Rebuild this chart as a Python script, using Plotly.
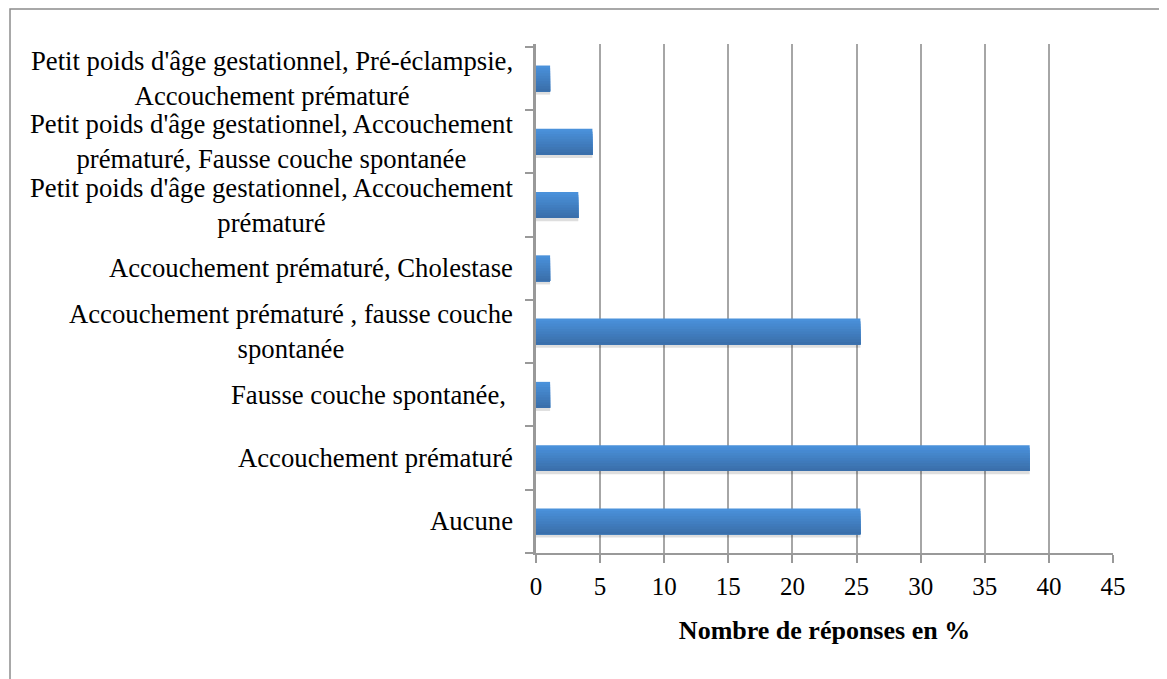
import plotly.graph_objects as go

categories = [
    "Aucune",
    "Accouchement prématuré",
    "Fausse couche spontanée,\u00a0",
    "Accouchement prématuré , fausse couche<br>spontanée",
    "Accouchement prématuré, Cholestase",
    "Petit poids d'âge gestationnel, Accouchement<br>prématuré",
    "Petit poids d'âge gestationnel, Accouchement<br>prématuré, Fausse couche spontanée",
    "Petit poids d'âge gestationnel, Pré-éclampsie,<br>Accouchement prématuré",
]
values = [25.3, 38.5, 1.1, 25.3, 1.1, 3.3, 4.4, 1.1]
x_ticks = [0, 5, 10, 15, 20, 25, 30, 35, 40, 45]
x_title = "Nombre de réponses en %"

FONT = "Liberation Serif, Times New Roman, serif"
BAR_W = 0.41
TOP_RGB = (74, 145, 218)
BOT_RGB = (58, 111, 171)
N_LAYERS = 10

fig = go.Figure()
# soft drop shadow under each bar
fig.add_trace(go.Bar(
    x=values, y=categories, orientation="h",
    width=BAR_W, offset=-BAR_W / 2 - 0.05,
    marker=dict(color="rgba(0,0,0,0.13)", line=dict(width=0)),
    hoverinfo="skip",
))
# vertical gradient fill: nested layers all starting at the bar's bottom edge,
# each shorter and darker than the previous
for k in range(N_LAYERS):
    t = k / (N_LAYERS - 1)
    rgb = tuple(round(TOP_RGB[j] + (BOT_RGB[j] - TOP_RGB[j]) * t) for j in range(3))
    fig.add_trace(go.Bar(
        x=values, y=categories, orientation="h",
        width=BAR_W * (N_LAYERS - k) / N_LAYERS,
        offset=-BAR_W / 2,
        marker=dict(color="rgb(%d,%d,%d)" % rgb, line=dict(width=0)),
        hoverinfo="x+y" if k == 0 else "skip",
    ))

for c in categories:
    fig.add_annotation(
        x=0, xref="paper", y=c, yref="y",
        text=c, showarrow=False, xanchor="right", align="center",
        xshift=-21, font=dict(family=FONT, size=26.7, color="#000"),
    )

fig.add_shape(
    type="rect", xref="paper", yref="paper",
    x0=-0.9116, x1=1.0832, y0=-0.35, y1=1.0688,
    line=dict(color="#8c8c8c", width=1.5), fillcolor="rgba(0,0,0,0)",
    layer="below",
)

fig.update_layout(
    width=1159, height=671,
    margin=dict(l=528, r=54, t=36, b=126),
    paper_bgcolor="white", plot_bgcolor="white",
    showlegend=False, barmode="overlay",
    font=dict(family=FONT, size=25, color="#000"),
    xaxis=dict(
        range=[0, 45], tickvals=x_ticks, ticktext=[str(t) for t in x_ticks],
        showgrid=True, gridcolor="#a6a6a6", gridwidth=1.5,
        showline=True, linecolor="#999999", linewidth=2,
        ticks="outside", ticklen=8, tickcolor="#999999", tickwidth=1.5,
        zeroline=False, ticklabelstandoff=2,
        tickfont=dict(family=FONT, size=25),
        title=dict(text="<b>" + x_title + "</b>", standoff=22,
                   font=dict(family=FONT, size=26)),
    ),
    yaxis=dict(
        categoryorder="array", categoryarray=categories,
        showticklabels=False, showgrid=False,
        showline=True, linecolor="#999999", linewidth=2.5,
        ticks="outside", ticklen=8, tickcolor="#999999", tickwidth=1.5,
        tickson="boundaries", zeroline=False,
    ),
)

fig.write_html("out.html")
